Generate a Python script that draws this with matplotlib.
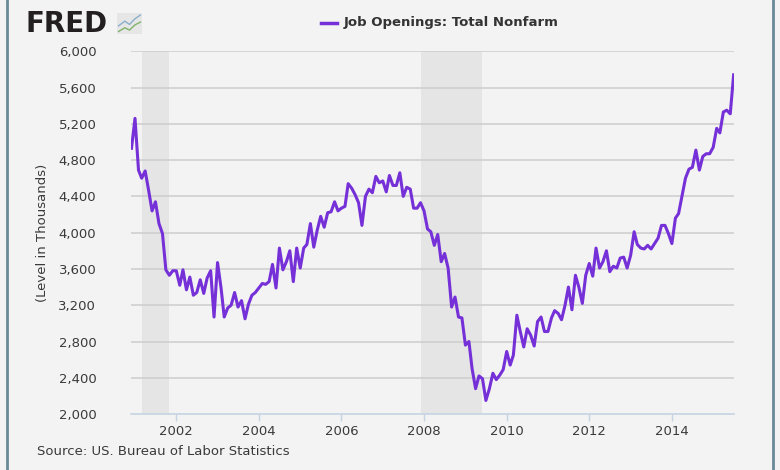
import numpy as np
import pandas as pd
import matplotlib.pyplot as plt
from matplotlib.lines import Line2D
from matplotlib.patches import Rectangle

# Job openings, total nonfarm (thousands), monthly Dec 2000 - Jul 2015
start_month = '2000-12-01'
openings = [
    4930,
    5260, 4690, 4600, 4680, 4470, 4240, 4340, 4100, 3990, 3590, 3530, 3580,  # 2001
    3580, 3420, 3590, 3370, 3510, 3310, 3340, 3480, 3330, 3500, 3580, 3070,  # 2002
    3670, 3390, 3070, 3170, 3200, 3340, 3180, 3250, 3050, 3210, 3310, 3340,  # 2003
    3390, 3440, 3430, 3460, 3650, 3390, 3830, 3590, 3680, 3800, 3460, 3830,  # 2004
    3610, 3830, 3870, 4100, 3840, 4030, 4180, 4060, 4220, 4230, 4340, 4240,  # 2005
    4270, 4290, 4540, 4490, 4420, 4330, 4080, 4400, 4480, 4440, 4620, 4550,  # 2006
    4570, 4450, 4630, 4520, 4520, 4660, 4400, 4500, 4480, 4270, 4270, 4330,  # 2007
    4240, 4040, 4010, 3860, 3980, 3680, 3770, 3610, 3180, 3290, 3070, 3060,  # 2008
    2760, 2800, 2500, 2280, 2420, 2390, 2150, 2280, 2450, 2380, 2430, 2490,  # 2009
    2690, 2540, 2650, 3090, 2910, 2740, 2940, 2870, 2750, 3020, 3070, 2910,  # 2010
    2910, 3060, 3140, 3110, 3040, 3200, 3400, 3150, 3530, 3400, 3220, 3530,  # 2011
    3660, 3520, 3830, 3610, 3680, 3800, 3570, 3630, 3610, 3720, 3730, 3610,  # 2012
    3750, 4010, 3870, 3830, 3820, 3860, 3820, 3880, 3940, 4080, 4080, 3990,  # 2013
    3880, 4160, 4210, 4410, 4600, 4700, 4720, 4910, 4690, 4840, 4870, 4870,  # 2014
    4940, 5150, 5100, 5330, 5350, 5310, 5740,                                # 2015
]
recessions = [('2001-03-01', '2001-11-01'), ('2007-12-01', '2009-06-01')]
y_ticks = [2000, 2400, 2800, 3200, 3600, 4000, 4400, 4800, 5200, 5600, 6000]
x_tick_years = [2002, 2004, 2006, 2008, 2010, 2012, 2014]

dates = pd.date_range(start_month, periods=len(openings), freq='MS')

bg = '#f3f3f3'
purple = '#7530d8'
text_col = '#3a3a3a'

fig = plt.figure(figsize=(7.8, 4.7), dpi=100, facecolor=bg)
ax = fig.add_axes([0.168, 0.119, 0.773, 0.772], facecolor=bg)

# recession shading
for r0, r1 in recessions:
    ax.axvspan(pd.Timestamp(r0), pd.Timestamp(r1), color='#e5e5e5', lw=0, zorder=0)

# gridlines
for yv in y_ticks[1:]:
    ax.axhline(yv, color='#cfcfcf', lw=1.2, zorder=1)

ax.plot(dates, openings, color=purple, lw=2.2, zorder=3)

ax.set_xlim(dates[0] - pd.Timedelta(days=4), dates[-1] + pd.Timedelta(days=3))
ax.set_ylim(2000, 6000)
ax.set_yticks(y_ticks)
ax.set_yticklabels([f'{v:,}' for v in y_ticks])
ax.set_xticks([pd.Timestamp(f'{y}-01-01') for y in x_tick_years])
ax.set_xticklabels([str(y) for y in x_tick_years])

for s in ['top', 'right', 'left']:
    ax.spines[s].set_visible(False)
ax.spines['bottom'].set_color('#c5d4e3')
ax.spines['bottom'].set_linewidth(1.2)
ax.tick_params(axis='y', length=0, pad=25, labelsize=9.5, labelcolor=text_col)
ax.tick_params(axis='x', length=5, width=1, color='#c5d4e3', pad=3,
               labelsize=9.5, labelcolor=text_col)

ax.set_ylabel('(Level in Thousands)', fontsize=9.5, color=text_col, labelpad=7)

# legend / title
fig.add_artist(Line2D([0.411, 0.432], [0.952, 0.952], color=purple, lw=2.5,
                      transform=fig.transFigure))
fig.text(0.440, 0.952, 'Job Openings: Total Nonfarm', fontsize=9.5,
         fontweight='bold', color='#333333', va='center', ha='left')

# FRED logo
fig.text(0.033, 0.948, 'FRED', fontsize=20, fontweight='bold', color='#231f20',
         va='center', ha='left', family='DejaVu Sans')
fig.add_artist(Rectangle((0.150, 0.927), 0.032, 0.046, color='#e6e6e6', lw=0,
                         transform=fig.transFigure))
fig.add_artist(Line2D([0.152, 0.160, 0.166, 0.173, 0.180],
                      [0.945, 0.955, 0.948, 0.960, 0.968], color='#8aaecb', lw=1,
                      transform=fig.transFigure))
fig.add_artist(Line2D([0.152, 0.160, 0.166, 0.173, 0.180],
                      [0.933, 0.941, 0.936, 0.947, 0.953], color='#7fb26a', lw=1,
                      transform=fig.transFigure))

fig.text(0.047, 0.025, 'Source: US. Bureau of Labor Statistics', fontsize=9.5,
         color=text_col, va='bottom', ha='left')

# side borders
for xf in [0.009, 0.991]:
    fig.add_artist(Line2D([xf, xf], [0, 1], color='#6a8a9a', lw=2,
                          transform=fig.transFigure))

fig.savefig('out.png', dpi=100, facecolor=bg)
